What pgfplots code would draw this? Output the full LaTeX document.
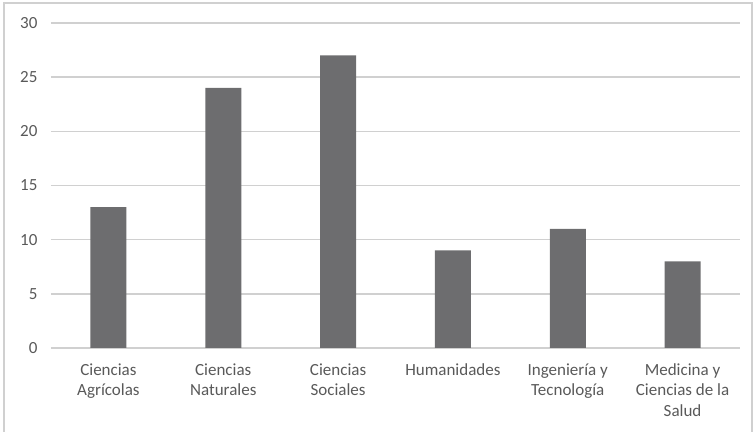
\documentclass[border=0pt]{standalone}
\usepackage{pgfplots}
\pgfplotsset{compat=1.18}
\usepackage{fontspec}
\setmainfont{Carlito}
\definecolor{barc}{HTML}{6D6D6F}
\definecolor{gridc}{HTML}{D0D0D0}
\definecolor{txt}{HTML}{595959}
\begin{document}
\begin{tikzpicture}
\useasboundingbox (0,0) rectangle (754bp,432bp);
\draw[gridc, line width=1.5bp] (4bp,-5bp) -- (4bp,429bp) -- (752bp,429bp) -- (752bp,-5bp);
\begin{axis}[
    at={(51bp,84bp)}, anchor=south west,
    scale only axis,
    width=689bp, height=325bp,
    ymin=0, ymax=30,
    xmin=-0.5, xmax=5.5,
    ybar, bar width=36bp,
    ytick={0,5,...,30},
    xtick=data,
    xticklabels={Ciencias\\Agrícolas, Ciencias\\Naturales, Ciencias\\Sociales, Humanidades, Ingeniería y\\Tecnología, Medicina y\\Ciencias de la\\Salud},
    x tick label style={align=center, font=\fontsize{17bp}{20.5bp}\selectfont, text=txt, yshift=-12bp},
    y tick label style={font=\fontsize{17bp}{20.5bp}\selectfont, text=txt, xshift=-10bp},
    /pgf/number format/assume math mode=true,
    axis line style={draw=none},
    ymajorgrids=true,
    grid style={gridc, line width=1.5bp},
    major tick length=0pt,
]
\addplot[fill=barc, draw=none] coordinates {(0,13) (1,24) (2,27) (3,9) (4,11) (5,8)};
\end{axis}
\end{tikzpicture}
\end{document}
